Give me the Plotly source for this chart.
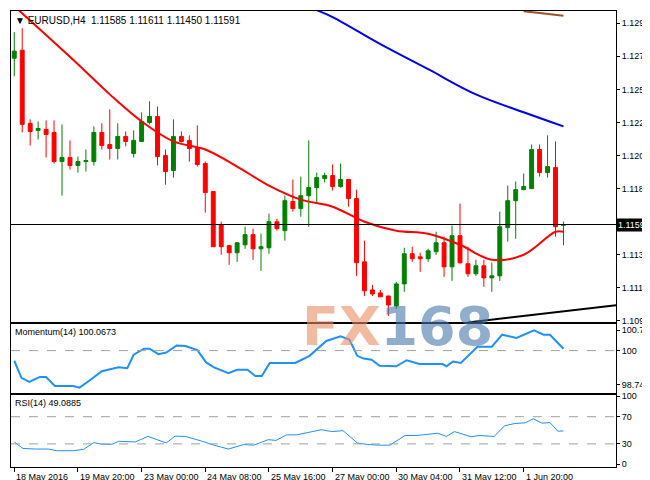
import plotly.graph_objects as go

# EURUSD H4 candles (index 1..70)
opens = [1.12722, 1.12776, 1.12279, 1.12231, 1.12238, 1.12217, 1.12019, 1.12047, 1.11992, 1.12019,
         1.12019, 1.12217, 1.12135, 1.12108, 1.12190, 1.12074, 1.12156, 1.12285, 1.12326, 1.12060,
         1.11958, 1.12190, 1.12163, 1.12108, 1.12006, 1.11815, 1.11590, 1.11447, 1.11399, 1.11453,
         1.11522, 1.11426, 1.11433, 1.11610, 1.11549, 1.11747, 1.11699, 1.11787, 1.11842, 1.11903,
         1.11924, 1.11849, 1.11897, 1.11767, 1.11337, 1.11146, 1.11126, 1.11105, 1.11037, 1.11187,
         1.11392, 1.11371, 1.11358, 1.11406, 1.11467, 1.11303, 1.11515, 1.11324, 1.11256, 1.11310,
         1.11228, 1.11242, 1.11570, 1.11753, 1.11828, 1.11835, 1.12101, 1.11944, 1.11978, 1.11585]
highs = [1.12899, 1.12926, 1.12306, 1.12292, 1.12299, 1.12299, 1.12272, 1.12163, 1.12053, 1.12101,
         1.12258, 1.12279, 1.12374, 1.12279, 1.12224, 1.12231, 1.12354, 1.12429, 1.12394, 1.12101,
         1.12306, 1.12224, 1.12197, 1.12265, 1.12019, 1.11815, 1.11610, 1.11453, 1.11467, 1.11576,
         1.11563, 1.11529, 1.11665, 1.11631, 1.11787, 1.11897, 1.11917, 1.12163, 1.11944, 1.11944,
         1.11999, 1.12006, 1.11897, 1.11828, 1.11481, 1.11180, 1.11146, 1.11105, 1.11201, 1.11433,
         1.11440, 1.11399, 1.11426, 1.11542, 1.11508, 1.11583, 1.11733, 1.11440, 1.11351, 1.11351,
         1.11331, 1.11678, 1.11856, 1.11883, 1.11938, 1.12135, 1.12135, 1.12197, 1.12156, 1.11611]
lows = [1.12599, 1.12217, 1.12128, 1.12169, 1.12047, 1.12006, 1.11787, 1.11965, 1.11944, 1.11951,
        1.11992, 1.12101, 1.12033, 1.12033, 1.12122, 1.12047, 1.12156, 1.12272, 1.11992, 1.11862,
        1.11910, 1.12149, 1.12019, 1.11985, 1.11672, 1.11440, 1.11385, 1.11317, 1.11337, 1.11426,
        1.11351, 1.11276, 1.11392, 1.11549, 1.11481, 1.11678, 1.11644, 1.11576, 1.11740, 1.11876,
        1.11822, 1.11842, 1.11712, 1.11242, 1.11105, 1.11105, 1.11099, 1.10969, 1.11017, 1.11133,
        1.11337, 1.11269, 1.11337, 1.11385, 1.11235, 1.11208, 1.11324, 1.11235, 1.11242, 1.11167,
        1.11133, 1.11208, 1.11474, 1.11494, 1.11828, 1.11835, 1.11917, 1.11910, 1.11508, 1.11450]
closes = [1.12770, 1.12272, 1.12224, 1.12244, 1.12203, 1.12019, 1.12047, 1.11992, 1.12019, 1.12026,
          1.12217, 1.12128, 1.12108, 1.12190, 1.12156, 1.12163, 1.12292, 1.12326, 1.12053, 1.11951,
          1.12190, 1.12156, 1.12108, 1.11999, 1.11808, 1.11440, 1.11440, 1.11399, 1.11467, 1.11522,
          1.11426, 1.11440, 1.11610, 1.11563, 1.11753, 1.11699, 1.11787, 1.11842, 1.11910, 1.11924,
          1.11849, 1.11897, 1.11767, 1.11331, 1.11140, 1.11119, 1.11099, 1.11044, 1.11187, 1.11392,
          1.11358, 1.11358, 1.11412, 1.11467, 1.11303, 1.11515, 1.11331, 1.11256, 1.11310, 1.11228,
          1.11242, 1.11576, 1.11753, 1.11828, 1.11849, 1.12101, 1.11944, 1.11985, 1.11576, 1.11591]
bar_idx = list(range(1, 71))

ma_red_idx = [1, 5, 9, 13, 17, 21, 25, 29, 33, 37, 41, 45, 49, 53, 57, 61, 65, 69, 70]
ma_red = [1.13076, 1.12879, 1.12681, 1.12476, 1.12292, 1.12156, 1.12101, 1.11985, 1.11856, 1.11760,
          1.11712, 1.11610, 1.11549, 1.11528, 1.11453, 1.11351, 1.11385, 1.11542, 1.11542]
ma_blue_idx = [39, 41, 47, 53, 59, 65, 70]
ma_blue = [1.13049, 1.13001, 1.12817, 1.12647, 1.12476, 1.12354, 1.12258]
ma_brown_idx = [65, 70]
ma_brown = [1.13042, 1.13011]
trend_idx = [58, 77]
trend_val = [1.10925, 1.11044]
last_price = 1.11591
price_ticks = [1.10935, 1.11160, 1.11385, 1.11835, 1.12060, 1.12285, 1.12510, 1.12735, 1.12960]

mom_idx = [1.0, 1.9, 2.9, 4.2, 5.0, 6.1, 8.4, 9.2, 10.5, 12.0, 14.1, 15.2, 16.0, 17.3, 18.0, 19.1,
           20.1, 21.4, 22.5, 24.0, 25.1, 26.1, 27.9, 29.0, 30.3, 31.3, 32.1, 33.1, 36.3, 38.1, 40.2,
           42.0, 43.1, 44.1, 44.9, 45.9, 46.9, 49.0, 50.3, 51.9, 54.8, 55.3, 56.1, 57.1, 59.2, 61.0,
           62.3, 64.1, 66.3, 67.5, 68.3, 70.0]
mom_val = [99.63, 99.01, 98.86, 99.04, 99.04, 98.71, 98.71, 98.65, 98.92, 99.25, 99.39, 99.36, 99.85,
           100.07, 100.07, 99.87, 99.93, 100.19, 100.17, 100.02, 99.57, 99.39, 99.18, 99.30, 99.30,
           99.07, 99.07, 99.55, 99.55, 99.81, 100.35, 100.52, 100.40, 99.81, 99.71, 99.67, 99.45,
           99.43, 99.65, 99.51, 99.51, 99.43, 99.60, 99.55, 100.14, 100.14, 100.58, 100.46, 100.74,
           100.58, 100.58, 100.07]

rsi_idx = [1.0, 2.1, 3.7, 5.3, 6.3, 8.4, 9.7, 11.0, 12.0, 13.3, 14.1, 16.2, 17.8, 19.1, 20.1, 21.2,
           22.5, 24.5, 26.1, 27.9, 29.8, 31.1, 32.9, 33.9, 35.2, 36.5, 37.6, 39.6, 40.9, 42.3, 44.1,
           45.4, 46.9, 48.2, 50.1, 51.6, 54.2, 55.3, 56.3, 58.4, 59.4, 61.3, 62.6, 63.9, 65.2, 66.2,
           67.3, 68.3, 69.3, 70.0]
rsi_val = [32.9, 23.3, 22.4, 22.4, 20.0, 20.0, 21.9, 31.9, 29.5, 29.5, 33.8, 32.9, 41.0, 36.2, 31.4,
           41.4, 41.0, 34.3, 28.1, 22.4, 29.0, 28.1, 36.2, 35.2, 43.3, 43.3, 46.2, 50.9, 48.1, 49.5,
           31.4, 29.0, 28.1, 28.1, 42.4, 42.4, 45.7, 41.0, 48.1, 40.5, 42.4, 41.0, 56.7, 60.0, 61.0,
           67.0, 60.5, 61.4, 48.6, 49.1]

date_idx = [1, 9, 17, 25, 33, 41, 49, 57, 65]
date_labels = ["18 May 2016", "19 May 20:00", "23 May 00:00", "24 May 08:00", "25 May 16:00",
               "27 May 00:00", "30 May 04:00", "31 May 12:00", "1 Jun 20:00"]

font = "Liberation Sans"
fig = go.Figure()
fig.add_trace(go.Candlestick(x=bar_idx, open=opens, high=highs, low=lows, close=closes,
                             increasing=dict(line=dict(color="#008000", width=1), fillcolor="#008000"),
                             decreasing=dict(line=dict(color="#ff0000", width=1), fillcolor="#ff0000"),
                             whiskerwidth=0, xaxis="x", yaxis="y"))
fig.add_trace(go.Scatter(x=ma_red_idx, y=ma_red, mode="lines", line=dict(color="red", width=2, shape="spline"),
                         xaxis="x", yaxis="y"))
fig.add_trace(go.Scatter(x=ma_blue_idx, y=ma_blue, mode="lines", line=dict(color="#0000ee", width=2, shape="spline"),
                         xaxis="x", yaxis="y"))
fig.add_trace(go.Scatter(x=ma_brown_idx, y=ma_brown, mode="lines", line=dict(color="#a0522d", width=2),
                         xaxis="x", yaxis="y"))
fig.add_trace(go.Scatter(x=trend_idx, y=trend_val, mode="lines", line=dict(color="black", width=2),
                         xaxis="x", yaxis="y"))
fig.add_trace(go.Scatter(x=mom_idx, y=mom_val, mode="lines", line=dict(color="#1e90ff", width=2),
                         xaxis="x2", yaxis="y2"))
fig.add_trace(go.Scatter(x=rsi_idx, y=rsi_val, mode="lines", line=dict(color="#1e90ff", width=1),
                         xaxis="x3", yaxis="y3"))

xr = [0.59, 76.6]
xcommon = dict(range=xr, showgrid=False, zeroline=False, showline=True, linecolor="black",
               mirror=True, linewidth=1, fixedrange=True, automargin=False)
ycommon = dict(showgrid=False, zeroline=False, showline=True, linecolor="black", mirror=True,
               linewidth=1, side="right", ticks="outside", ticklen=3, tickcolor="black", automargin=False,
               tickfont=dict(family=font, size=9, color="black"))

fig.update_layout(
    width=650, height=480, showlegend=False,
    paper_bgcolor="white", plot_bgcolor="white",
    margin=dict(l=3, r=42, t=3, b=21),
    xaxis=dict(xcommon, domain=[0, 1], anchor="y", showticklabels=False, rangeslider=dict(visible=False)),
    xaxis2=dict(xcommon, domain=[0, 1], anchor="y2", showticklabels=False),
    xaxis3=dict(xcommon, domain=[0, 1], anchor="y3", tickvals=date_idx, ticktext=[""] * len(date_idx),
                ticks="outside", ticklen=4, tickcolor="black"),
    yaxis=dict(ycommon, domain=[0.318, 1.0], range=[1.10928, 1.13043], tickvals=price_ticks,
               tickformat=".5f"),
    yaxis2=dict(ycommon, domain=[0.162, 0.3136], range=[98.45, 100.97],
                tickvals=[98.7478, 100, 100.7501], ticktext=["98.7478", "100", "100.7501"]),
    yaxis3=dict(ycommon, domain=[0, 0.158], range=[-4, 102], tickvals=[0, 30, 70, 100]),
)

# horizontal levels
fig.add_shape(type="line", xref="x domain", yref="y", x0=0, x1=1, y0=last_price, y1=last_price,
              line=dict(color="black", width=1))
fig.add_shape(type="line", xref="x2 domain", yref="y2", x0=0, x1=1, y0=100, y1=100,
              line=dict(color="#a0a0a0", width=1, dash="dash"))
for lvl in [30, 70]:
    fig.add_shape(type="line", xref="x3 domain", yref="y3", x0=0, x1=1, y0=lvl, y1=lvl,
                  line=dict(color="#a0a0a0", width=1, dash="dash"))

# watermark
fig.add_annotation(xref="paper", yref="paper", x=0.80, y=0.235, showarrow=False,
                   text="<b><span style='color:rgba(235,140,100,0.6)'>FX</span>"
                        "<span style='color:rgba(70,120,170,0.6)'>168</span></b>",
                   font=dict(family="DejaVu Sans", size=54))

# texts
fig.add_annotation(xref="paper", yref="paper", x=0.004, y=0.995, xanchor="left", yanchor="top", showarrow=False,
                   text="▼ EURUSD,H4  1.11585 1.11611 1.11450 1.11591",
                   font=dict(family=font, size=10, color="black"))
fig.add_annotation(xref="paper", yref="paper", x=0.004, y=0.311, xanchor="left", yanchor="top", showarrow=False,
                   text="Momentum(14) 100.0673", font=dict(family=font, size=9, color="black"))
fig.add_annotation(xref="paper", yref="paper", x=0.004, y=0.155, xanchor="left", yanchor="top", showarrow=False,
                   text="RSI(14) 49.0885", font=dict(family=font, size=9, color="black"))
fig.add_annotation(xref="paper", yref="y", x=1.0, y=last_price, xanchor="left", showarrow=False,
                   text="1.11591", bgcolor="black", font=dict(family=font, size=9, color="white"),
                   borderpad=1)
for i, lab in zip(date_idx, date_labels):
    fig.add_annotation(xref="x3", yref="paper", x=i, y=0, xanchor="left", yanchor="top", yshift=-3,
                       showarrow=False, text=lab, font=dict(family=font, size=9, color="black"))

fig.write_html("out.html")
